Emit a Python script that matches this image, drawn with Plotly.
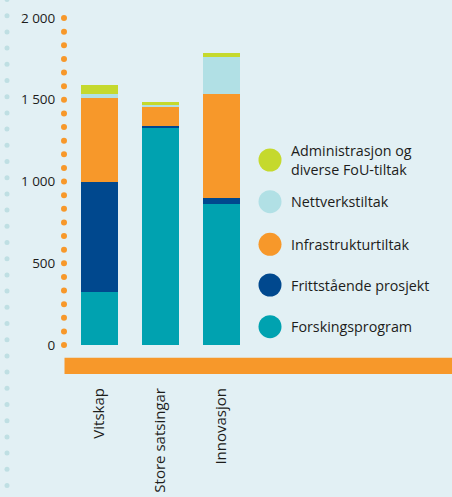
import plotly.graph_objects as go

# ---- data ----
categories = ["Vitskap", "Store satsingar", "Innovasjon"]
forskingsprogram = [324, 1328, 863]
frittstaaande = [676, 13, 37]
infrastruktur = [508, 116, 637]
nettverk = [29, 12, 222]
administrasjon = [55, 20, 30]

series_names = [
    "Forskingsprogram",
    "Frittstående prosjekt",
    "Infrastrukturtiltak",
    "Nettverkstiltak",
    "Administrasjon og<br>diverse FoU-tiltak",
]
series_values = [forskingsprogram, frittstaaande, infrastruktur, nettverk, administrasjon]
series_colors = ["#00a2b0", "#00488e", "#f7982a", "#b1e0e5", "#c5d92d"]

y_tickvals = [0, 500, 1000, 1500, 2000]
y_ticktext = ["0", "500", "1 000", "1 500", "2 000"]

# ---- layout geometry (pixels) ----
W, H = 452, 497
L, R, T, B = 64, 0, 18, 152
PW, PH = W - L - R, H - T - B
BG = "#e2f0f4"
ORANGE = "#f7982a"
FONT = "Open Sans"
TXT = "#1d1d1b"


def px_x(x):
    return (x - L) / PW


def px_y(y):
    return (H - B - y) / PH


fig = go.Figure()
xs = list(range(len(categories)))
for name, vals, col in zip(series_names, series_values, series_colors):
    fig.add_trace(go.Bar(
        x=xs, y=vals, name=name.replace("<br>", " "),
        marker=dict(color=col, line=dict(width=0)),
        width=0.607, showlegend=False,
    ))

shapes = []
# light dots column on the left edge
k = 0
while True:
    cy = -0.5 + k * 16.2
    if cy > H + 3:
        break
    shapes.append(dict(type="circle", xref="paper", yref="paper",
                       x0=px_x(7 - 2.5), x1=px_x(7 + 2.5),
                       y0=px_y(cy + 2.5), y1=px_y(cy - 2.5),
                       fillcolor="#bfdfe3", line=dict(width=0), layer="below"))
    k += 1

# orange dotted y axis
n_dots = 24
for i in range(n_dots + 1):
    yv = 2000 * i / n_dots
    cy = H - B - yv * PH / 2000
    shapes.append(dict(type="circle", xref="paper", yref="paper",
                       x0=px_x(64 - 3), x1=px_x(64 + 3),
                       y0=px_y(cy + 3), y1=px_y(cy - 3),
                       fillcolor=ORANGE, line=dict(width=0)))

# orange base bar
shapes.append(dict(type="rect", xref="paper", yref="paper",
                   x0=px_x(64.5), x1=1.0, y0=px_y(374), y1=px_y(357.7),
                   fillcolor=ORANGE, line=dict(width=0)))

# custom legend
legend_y = [326.7, 285, 244.3, 201.7, 160]
annotations = []
for name, col, cy in zip(series_names, series_colors, legend_y):
    shapes.append(dict(type="circle", xref="paper", yref="paper",
                       x0=px_x(270 - 11.5), x1=px_x(270 + 11.5),
                       y0=px_y(cy + 11.5), y1=px_y(cy - 11.5),
                       fillcolor=col, line=dict(width=0)))
    annotations.append(dict(xref="paper", yref="paper",
                            x=px_x(289), y=px_y(cy),
                            xanchor="left", yanchor="middle", align="left",
                            text=name, showarrow=False,
                            font=dict(family=FONT, size=14.3, color=TXT)))

fig.update_layout(
    width=W, height=H,
    margin=dict(l=L, r=R, t=T, b=B, autoexpand=False),
    paper_bgcolor=BG, plot_bgcolor=BG,
    barmode="stack", bargap=0,
    shapes=shapes, annotations=annotations,
    font=dict(family=FONT, color=TXT),
    xaxis=dict(range=[(64 - 99.5) / 61, (452 - 99.5) / 61],
               tickvals=xs, ticktext=categories, tickangle=-90,
               ticks="outside", ticklen=36, tickcolor="rgba(0,0,0,0)",
               showgrid=False, zeroline=False, showline=False,
               tickfont=dict(family=FONT, size=15, color=TXT),
               automargin=False, fixedrange=True),
    yaxis=dict(range=[0, 2000], tickvals=y_tickvals, ticktext=y_ticktext,
               ticks="outside", ticklen=5, tickcolor="rgba(0,0,0,0)",
               showgrid=False, zeroline=False, showline=False,
               tickfont=dict(family=FONT, size=13.5, color=TXT),
               automargin=False, fixedrange=True),
    showlegend=False,
)

fig.write_html("out.html", config={"displayModeBar": False},
               post_script="document.body.style.margin='0';document.body.style.overflow='hidden';")
